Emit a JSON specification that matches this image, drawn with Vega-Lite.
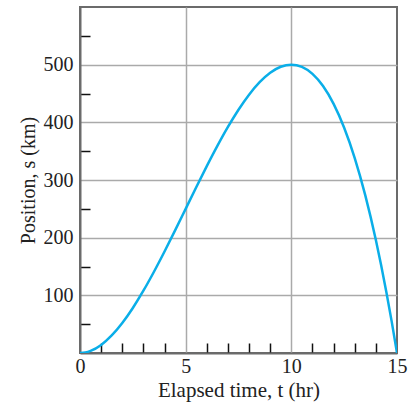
{
  "$schema": "https://vega.github.io/schema/vega-lite/v6.json",
  "width": 317,
  "height": 346,
  "autosize": {"type": "none"},
  "padding": {"left": 80, "top": 7, "right": 15, "bottom": 49},
  "background": "white",
  "config": {
    "view": {"stroke": "#6b6b6b", "strokeWidth": 2},
    "font": "Liberation Serif",
    "axis": {
      "labelFont": "Liberation Serif",
      "titleFont": "Liberation Serif",
      "labelFontSize": 20,
      "titleFontSize": 21,
      "titleFontWeight": "normal",
      "labelColor": "#222",
      "titleColor": "#222",
      "domainColor": "#6b6b6b",
      "domainWidth": 2,
      "tickColor": "#111",
      "tickWidth": 1.5,
      "tickSize": -10,
      "gridColor": "#aaaaaa",
      "gridWidth": 1.5
    }
  },
  "data": {
    "values": [
      {"t": 0, "s": 0}, {"t": 0.25, "s": 0.92}, {"t": 0.5, "s": 3.63}, {"t": 1, "s": 14},
      {"t": 1.5, "s": 30.4}, {"t": 2, "s": 52}, {"t": 2.5, "s": 78.1}, {"t": 3, "s": 108},
      {"t": 3.5, "s": 140.9}, {"t": 4, "s": 176}, {"t": 4.5, "s": 212.6}, {"t": 5, "s": 250},
      {"t": 5.5, "s": 287.4}, {"t": 6, "s": 324}, {"t": 6.5, "s": 359.1}, {"t": 7, "s": 392},
      {"t": 7.5, "s": 421.9}, {"t": 8, "s": 448}, {"t": 8.5, "s": 469.6}, {"t": 9, "s": 486},
      {"t": 9.5, "s": 496.4}, {"t": 10, "s": 500}, {"t": 10.5, "s": 496.1}, {"t": 11, "s": 484},
      {"t": 11.5, "s": 462.9}, {"t": 12, "s": 432}, {"t": 12.5, "s": 390.6}, {"t": 13, "s": 338},
      {"t": 13.5, "s": 273.4}, {"t": 14, "s": 196}, {"t": 14.25, "s": 152.3}, {"t": 14.5, "s": 105.1},
      {"t": 14.75, "s": 54.4}, {"t": 15, "s": 0}
    ]
  },
  "mark": {"type": "line", "color": "#0aaee8", "strokeWidth": 2.5, "interpolate": "monotone", "clip": true},
  "encoding": {
    "x": {
      "field": "t", "type": "quantitative",
      "scale": {"domain": [0, 15], "nice": false, "zero": false},
      "axis": {
        "title": "Elapsed time, t (hr)",
        "values": [0,1,2,3,4,5,6,7,8,9,10,11,12,13,14,15],
        "labelExpr": "datum.value % 5 === 0 ? datum.label : ''",
        "labelPadding": 13,
        "titlePadding": 3,
        "labelFlush": false,
        "grid": true,
        "gridOpacity": {"condition": {"test": "datum.value === 5 || datum.value === 10", "value": 1}, "value": 0},
        "tickOpacity": {"condition": {"test": "datum.value % 5 === 0", "value": 0}, "value": 1}
      }
    },
    "y": {
      "field": "s", "type": "quantitative",
      "scale": {"domain": [0, 600], "nice": false},
      "axis": {
        "title": "Position, s (km)",
        "titleFontSize": 20,
        "values": [50,100,150,200,250,300,350,400,450,500,550],
        "labelExpr": "datum.value % 100 === 0 ? datum.label : ''",
        "labelPadding": 17,
        "titlePadding": 5,
        "grid": true,
        "gridOpacity": {"condition": {"test": "datum.value % 100 === 0", "value": 1}, "value": 0},
        "tickOpacity": {"condition": {"test": "datum.value % 100 === 0", "value": 0}, "value": 1}
      }
    }
  }
}
